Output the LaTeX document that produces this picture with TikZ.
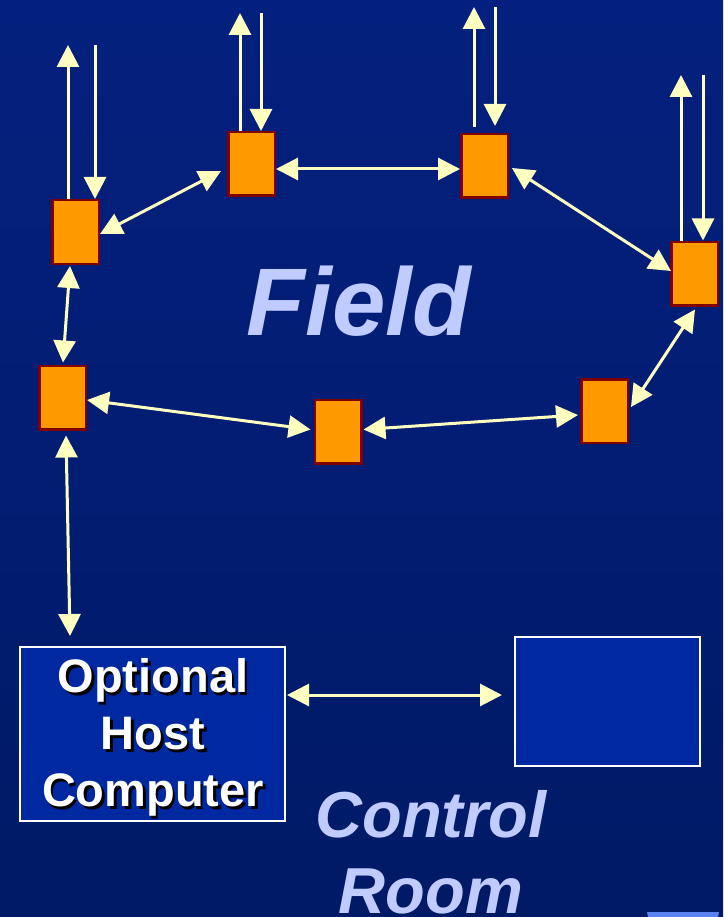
\documentclass[tikz,border=0pt]{standalone}
\usepackage{fontspec}
\setmainfont{Liberation Sans}
\usetikzlibrary{arrows.meta}

\definecolor{bgtop}{HTML}{04207E}
\definecolor{bgmid}{HTML}{002898}
\definecolor{bgbot}{HTML}{001A66}
\definecolor{wire}{HTML}{FFFFC0}
\definecolor{unitfill}{HTML}{FF9900}
\definecolor{unitedge}{HTML}{800000}
\definecolor{panelfill}{HTML}{0028A0}
\definecolor{label}{HTML}{C0CCFF}
\definecolor{tabblue}{HTML}{5A82F0}

% white lettering with a dark drop shadow
\newcommand{\dropshadowed}[1]{\leavevmode\rlap{\kern2.5pt\raisebox{-2.5pt}{\textcolor{black}{#1}}}\textcolor{white}{#1}}

\tikzset{
  unit/.style={draw=unitedge, fill=unitfill, line width=2.5pt,
    minimum width=46.5pt, minimum height=63.5pt, inner sep=0pt},
  panel/.style={draw=white, fill=panelfill, line width=2pt, inner sep=0pt},
  link/.style={draw=wire, line width=3pt, {Triangle[width=22pt,length=22pt]}-{Triangle[width=22pt,length=22pt]}},
  oneway/.style={draw=wire, line width=3pt, -{Triangle[width=22pt,length=22pt]}},
  bigword/.style={text=label, font=\fontsize{96}{96}\selectfont\bfseries\itshape},
  roomword/.style={text=label, font=\fontsize{65}{76}\selectfont\bfseries\itshape, align=center},
  hostword/.style={font=\fontsize{47}{57}\selectfont\bfseries, align=center, inner sep=0pt}
}

\begin{document}
\begin{tikzpicture}[x=1pt, y=-1pt]
  % page and background
  \useasboundingbox (0,0) rectangle (723,917);
  \shade[top color=bgtop, middle color=bgmid, bottom color=bgbot] (0,0) rectangle (723,917);
  \fill[tabblue] (647,912) -- (719,912) -- (718,917) -- (648,917) -- cycle;

  % field units
  \node[unit] (A) at (75.5,232) {};
  \node[unit] (B) at (251.5,164) {};
  \node[unit] (C) at (484.5,166) {};
  \node[unit] (D) at (694.5,273.5) {};
  \node[unit] (E) at (62.5,397.5) {};
  \node[unit] (F) at (338,431.5) {};
  \node[unit] (G) at (604.5,411) {};

  % control room panels
  \node[panel, minimum width=265pt, minimum height=174pt] (H) at (152.5,734) {};
  \node[panel, minimum width=185pt, minimum height=129pt] (R) at (607.5,701.5) {};

  % free ends of the field I/O lines
  \coordinate (Aup) at (68,45);   \coordinate (Ain) at (95,45);
  \coordinate (Bup) at (240,13);  \coordinate (Bin) at (261,13);
  \coordinate (Cup) at (474,7);   \coordinate (Cin) at (495,7);
  \coordinate (Dup) at (681,75);  \coordinate (Din) at (703,75);

  % I/O lines
  \draw[oneway] ([xshift=17pt]A.north west) -- (Aup);
  \draw[oneway] (Ain) -- ([xshift=44pt]A.north west);
  \draw[oneway] ([xshift=13pt]B.north west) -- (Bup);
  \draw[oneway] (Bin) -- ([xshift=34pt]B.north west);
  \draw[oneway] ([shift={(14,-6)}]C.north west) -- (Cup);
  \draw[oneway] (Cin) -- ([shift={(35,-7)}]C.north west);
  \draw[oneway] ([xshift=11pt]D.north west) -- (Dup);
  \draw[oneway] (Din) -- ([xshift=33pt]D.north west);

  % ring links between units
  \draw[link] ([shift={(0,2)}]A.east) -- ([shift={(-6,7)}]B.west);
  \draw[link] ([shift={(0,5)}]B.east) -- ([shift={(0,3)}]C.west);
  \draw[link] ([shift={(3,2)}]C.east) -- ([shift={(1,-2.5)}]D.west);
  \draw[link] ([shift={(0.5,3)}]D.south) -- ([shift={(2,-4)}]G.east);
  \draw[link] ([shift={(-2,4)}]G.west) -- ([shift={(1,-2)}]F.east);
  \draw[link] ([shift={(-3,-2)}]F.west) -- ([shift={(0,2.5)}]E.east);
  \draw[link] ([shift={(0.5,-2)}]E.north) -- ([shift={(-5.5,1)}]A.south);

  % links into the control room
  \draw[link] ([shift={(3.5,5)}]E.south) -- ([shift={(51,-10)}]H.north west);
  \draw[link] ([shift={(1,-39)}]H.east) -- ([shift={(-12,-6.5)}]R.west);

  % labels
  \node[bigword, anchor=base] (fieldlabel) at (359,335) {Field};
  \node[roomword, anchor=center] (roomlabel) at (431,852) {Control\\Room};
  \node[hostword] (hostlabel) at (153,739) {\dropshadowed{Optional}\\\dropshadowed{Host}\\\dropshadowed{Computer}};
\end{tikzpicture}
\end{document}
